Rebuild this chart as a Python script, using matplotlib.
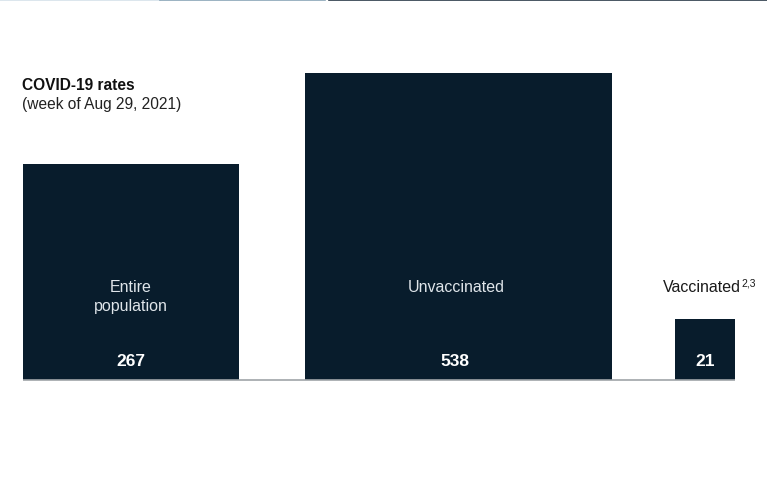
import matplotlib
matplotlib.use("Agg")
import matplotlib.pyplot as plt
import numpy as np

categories = ["Entire\npopulation", "Unvaccinated", "Vaccinated"]
superscripts = ["", "", "2,3"]
values = [267, 538, 21]
value_labels = ["267", "538", "21"]
title = "COVID-19 rates"
subtitle = "(week of Aug 29, 2021)"

BAR = "#081c2c"
PX = 13.22  # pixels per sqrt-unit

plt.rcParams['font.family'] = ['Liberation Sans', 'DejaVu Sans']

fig = plt.figure(figsize=(7.67, 4.8), dpi=100)
ax = fig.add_axes([0, 0, 1, 1])
ax.set_xlim(0, 767 / PX)
ax.set_ylim(-100 / PX, 380 / PX)
ax.axis("off")

sides = np.sqrt(values)
gaps = [66 / PX, 63 / PX]
lefts = [23 / PX]
for i in range(1, len(sides)):
    lefts.append(lefts[-1] + sides[i - 1] + gaps[i - 1])
lefts = np.array(lefts)
centers = lefts + sides / 2

ax.bar(centers, sides, width=sides, color=BAR, edgecolor="none")
ax.plot([lefts[0], lefts[-1] + sides[-1]], [0, 0], color="#a0a4a8", lw=1.2,
        solid_capstyle="butt")

label_y = [83 / PX, 92 / PX, 92 / PX]
label_dx = [0, -2 / PX, -3 / PX]
for i, (c, lab, vl) in enumerate(zip(centers, categories, value_labels)):
    inside = i < 2
    t = ax.text(c + label_dx[i], label_y[i], lab, ha="center", va="center",
                fontsize=11.5, color="#dfe5ea" if inside else "#1a1a1a",
                linespacing=1.3)
    if superscripts[i]:
        ax.annotate(superscripts[i], xy=(1, 1), xycoords=t, xytext=(0.5, 1.5),
                    textcoords="offset points", ha="left", va="top",
                    fontsize=7.5, color="#1a1a1a")
    ax.text(c - 3 / PX if i == 1 else c, 19 / PX, vl, ha="center", va="center",
            fontsize=12.5, fontweight="bold", color="white")

fig.text(22 / 767, 1 - 86 / 480, title, ha="left", va="center", fontsize=11.2,
         fontweight="bold", color="#111111")
fig.text(22 / 767, 1 - 105 / 480, subtitle, ha="left", va="center", fontsize=11.2,
         color="#222222")

# thin top edge strip
fig.add_artist(plt.Line2D([0.0, 160 / 767], [0.999, 0.999], color="#d6e2ea", lw=1.2))
fig.add_artist(plt.Line2D([160 / 767, 325 / 767], [0.999, 0.999], color="#8aa6b8", lw=1.2))
fig.add_artist(plt.Line2D([329 / 767, 1.0], [0.999, 0.999], color="#2a3a48", lw=1.2))

fig.savefig("out.png", dpi=100)
